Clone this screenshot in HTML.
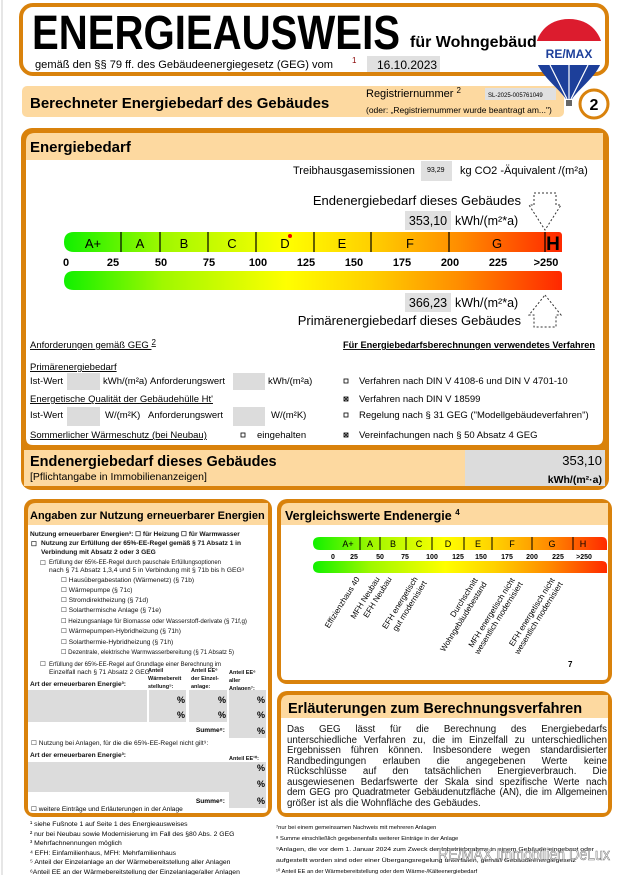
<!DOCTYPE html>
<html><head><meta charset="utf-8"><style>
html,body{margin:0;padding:0;background:#fff;}
body{position:relative;width:624px;height:875px;overflow:hidden;}
svg{display:block;font-family:"Liberation Sans",Arial,sans-serif;}
.b{font-weight:bold;}
#para{position:absolute;left:287px;top:725px;width:320px;font-family:"Liberation Sans",Arial,sans-serif;font-size:9.7px;line-height:10.5px;color:#111;}
#para div{text-align:justify;text-align-last:justify;white-space:nowrap;height:10.5px;}
#para div.l{text-align-last:left;}
</style></head><body>
<svg width="624" height="875" viewBox="0 0 624 875" xmlns="http://www.w3.org/2000/svg">
<defs>
<linearGradient id="g" x1="64" y1="0" x2="559" y2="0" gradientUnits="userSpaceOnUse">
<stop offset="0" stop-color="#10f000"/><stop offset="0.2" stop-color="#a0f800"/><stop offset="0.45" stop-color="#ffff00"/><stop offset="0.62" stop-color="#ffd000"/><stop offset="0.8" stop-color="#ff8c00"/><stop offset="1" stop-color="#ff2a00"/>
</linearGradient>
<linearGradient id="g2" x1="313" y1="0" x2="607" y2="0" gradientUnits="userSpaceOnUse">
<stop offset="0" stop-color="#10f000"/><stop offset="0.2" stop-color="#a0f800"/><stop offset="0.45" stop-color="#ffff00"/><stop offset="0.62" stop-color="#ffd000"/><stop offset="0.8" stop-color="#ff8c00"/><stop offset="1" stop-color="#ff2a00"/>
</linearGradient>
<clipPath id="bal"><path d="M569,19 C591,19 603,35 603,53 C603,72 581,86 572,99 L566,99 C557,86 535,72 535,53 C535,35 547,19 569,19 Z"/></clipPath>
</defs>
<line x1="2" y1="0" x2="2" y2="875" stroke="#ccc"/>

<!-- header -->
<rect x="21" y="5" width="586" height="69" rx="12" fill="#fff" stroke="#d9820c" stroke-width="4"/>
<text x="32" y="49" font-size="48" class="b" textLength="368" lengthAdjust="spacingAndGlyphs">ENERGIEAUSWEIS</text>
<text x="410" y="47" font-size="16" class="b">für Wohngebäude</text>
<text x="35" y="68" font-size="11" textLength="298" lengthAdjust="spacingAndGlyphs">gemäß den §§ 79 ff. des Gebäudeenergiegesetz (GEG) vom</text>
<text x="352" y="63" font-size="8" fill="#800">1</text>
<rect x="367" y="56" width="73" height="16" fill="#e0e0e0"/>
<text x="377" y="69" font-size="12">16.10.2023</text>

<!-- second bar -->
<rect x="22" y="86" width="542" height="31" rx="5" fill="#fdd9a0"/>
<text x="30" y="108" font-size="15" class="b">Berechneter Energiebedarf des Gebäudes</text>
<text x="366" y="97" font-size="11">Registriernummer <tspan font-size="8" dy="-4">2</tspan></text>
<rect x="485" y="88" width="71" height="12" fill="#e0e0e0"/>
<text x="488" y="97" font-size="6">SL-2025-005761049</text>
<text x="366" y="113" font-size="8.5">(oder: „Registriernummer wurde beantragt am...")</text>
<circle cx="594" cy="104" r="14" fill="#fff" stroke="#d9820c" stroke-width="3"/>
<text x="594" y="110" font-size="16" class="b" text-anchor="middle">2</text>

<!-- balloon -->
<g clip-path="url(#bal)">
<rect x="530" y="15" width="80" height="26" fill="#dc1c2e"/>
<rect x="530" y="41" width="80" height="24" fill="#fff"/>
<rect x="530" y="65" width="80" height="40" fill="#1d3f9a"/>
<path d="M550,65 L567,99 M588,65 L571,99 M569,65 L569,99" stroke="#fff" stroke-width="1.2"/>
</g>
<text x="569" y="58" font-size="12" class="b" fill="#1d3f9a" text-anchor="middle">RE/MAX</text>
<rect x="566" y="100" width="6" height="6" fill="#666"/>

<!-- Energiebedarf box -->
<rect x="21" y="128" width="588" height="362" rx="11" fill="#d9820c"/>
<path d="M26,142 Q26,133 35,133 L603,133 L603,160 L26,160 Z" fill="#fdd9a0"/>
<path d="M26,160 L603,160 L603,438 Q603,445 596,445 L33,445 Q26,445 26,438 Z" fill="#fff"/>
<text x="30" y="152" font-size="15" class="b">Energiebedarf</text>
<text x="293" y="174" font-size="11">Treibhausgasemissionen</text>
<rect x="421" y="161" width="31" height="20" fill="#e0e0e0"/>
<text x="427" y="172" font-size="7">93,29</text>
<text x="460" y="174" font-size="11">kg CO2 -Äquivalent /(m²a)</text>

<text x="521" y="205" font-size="13" text-anchor="end">Endenergiebedarf dieses Gebäudes</text>
<rect x="405" y="211" width="46" height="19" fill="#e0e0e0"/>
<text x="428" y="225" font-size="12.5" text-anchor="middle">353,10</text>
<text x="455" y="225" font-size="12.5">kWh/(m²*a)</text>
<path d="M534,205 L534,193 L556,193 L556,205 L561,205 L545,230 L529,205 Z" fill="none" stroke="#333" stroke-dasharray="2,2"/>

<path d="M74,232 L559,232 Q562,232 562,236 L562,252 L74,252 Q64,252 64,242 Q64,232 74,232 Z" fill="url(#g)"/>
<g stroke="#000" stroke-width="1.2">
<line x1="121" y1="232" x2="121" y2="252"/><line x1="160" y1="232" x2="160" y2="252"/><line x1="208" y1="232" x2="208" y2="252"/><line x1="256" y1="232" x2="256" y2="252"/><line x1="314" y1="232" x2="314" y2="252"/><line x1="371" y1="232" x2="371" y2="252"/><line x1="449" y1="232" x2="449" y2="252"/><line x1="545" y1="232" x2="545" y2="252"/>
</g>
<g font-size="13" text-anchor="middle">
<text x="93" y="248">A+</text><text x="140" y="248">A</text><text x="184" y="248">B</text><text x="232" y="248">C</text><text x="285" y="248">D</text><text x="342" y="248">E</text><text x="410" y="248">F</text><text x="497" y="248">G</text>
</g>
<text x="553" y="250" font-size="19" class="b" text-anchor="middle">H</text>
<circle cx="290" cy="236" r="2" fill="#e00"/>
<g font-size="11" class="b" text-anchor="middle">
<text x="66" y="266">0</text><text x="113" y="266">25</text><text x="161" y="266">50</text><text x="209" y="266">75</text><text x="258" y="266">100</text><text x="306" y="266">125</text><text x="354" y="266">150</text><text x="402" y="266">175</text><text x="450" y="266">200</text><text x="498" y="266">225</text><text x="546" y="266">&gt;250</text>
</g>
<path d="M74,271 L559,271 Q562,271 562,275 L562,290 L74,290 Q64,290 64,281 Q64,271 74,271 Z" fill="url(#g)"/>
<rect x="405" y="293" width="46" height="19" fill="#e0e0e0"/>
<text x="428" y="307" font-size="12.5" text-anchor="middle">366,23</text>
<text x="455" y="307" font-size="12.5">kWh/(m²*a)</text>
<text x="521" y="325" font-size="13" text-anchor="end">Primärenergiebedarf dieses Gebäudes</text>
<path d="M545,295 L561,315 L556,315 L556,327 L534,327 L534,315 L529,315 Z" fill="none" stroke="#333" stroke-dasharray="2,2"/>

<g font-size="9.5">
<text x="30" y="348" text-decoration="underline">Anforderungen gemäß GEG <tspan font-size="8" dy="-3">2</tspan></text>
<text x="343" y="348" class="b" text-decoration="underline" font-size="9" textLength="252" lengthAdjust="spacingAndGlyphs">Für Energiebedarfsberechnungen verwendetes Verfahren</text>
<text x="30" y="370" text-decoration="underline">Primärenergiebedarf</text>
<text x="30" y="384">Ist-Wert</text>
<rect x="67" y="373" width="33" height="17" fill="#dcdcdc"/>
<text x="103" y="384">kWh/(m²a)</text>
<text x="150" y="384">Anforderungswert</text>
<rect x="233" y="373" width="32" height="17" fill="#dcdcdc"/>
<text x="268" y="384">kWh/(m²a)</text>
<text x="30" y="402" text-decoration="underline">Energetische Qualität der Gebäudehülle Ht'</text>
<text x="30" y="418">Ist-Wert</text>
<rect x="67" y="407" width="33" height="19" fill="#dcdcdc"/>
<text x="105" y="418">W/(m²K)</text>
<text x="148" y="418">Anforderungswert</text>
<rect x="233" y="407" width="32" height="19" fill="#dcdcdc"/>
<text x="271" y="418">W/(m²K)</text>
<text x="30" y="438" text-decoration="underline">Sommerlicher Wärmeschutz (bei Neubau)</text>
<rect x="241" y="433" width="4" height="4" fill="none" stroke="#000" stroke-width="0.8"/>
<text x="257" y="438">eingehalten</text>
<text x="359" y="384">Verfahren nach DIN V 4108-6 und DIN V 4701-10</text>
<text x="359" y="402">Verfahren nach DIN V 18599</text>
<text x="359" y="418">Regelung nach § 31 GEG ("Modellgebäudeverfahren")</text>
<text x="359" y="438">Vereinfachungen nach § 50 Absatz 4 GEG</text>
</g>
<g fill="none" stroke="#000" stroke-width="0.8">
<rect x="344" y="379" width="4" height="4"/><rect x="344" y="397" width="4" height="4"/><rect x="344" y="413" width="4" height="4"/><rect x="344" y="433" width="4" height="4"/>
<path d="M344,397 L348,401 M348,397 L344,401 M344,433 L348,437 M348,433 L344,437"/>
</g>
<rect x="24" y="450" width="581" height="36" fill="#fdd9a0"/>
<rect x="465" y="450" width="140" height="36" fill="#dcdcdc"/>
<text x="30" y="466" font-size="14.5" class="b">Endenergiebedarf dieses Gebäudes</text>
<text x="30" y="480" font-size="10.5">[Pflichtangabe in Immobilienanzeigen]</text>
<text x="602" y="465" font-size="13" text-anchor="end">353,10</text>
<text x="602" y="483" font-size="10.5" class="b" text-anchor="end">kWh/(m²·a)</text>

<!-- left lower box -->
<rect x="24" y="499" width="248" height="318" rx="10" fill="#d9820c"/>
<path d="M28,511 Q28,503 36,503 L268,503 L268,525 L28,525 Z" fill="#fdd9a0"/>
<path d="M28,525 L268,525 L268,808 Q268,813 263,813 L33,813 Q28,813 28,808 Z" fill="#fff"/>
<text x="30" y="519" font-size="11" class="b">Angaben zur Nutzung erneuerbarer Energien</text>
<g font-size="6.6" class="b" fill="#111">
<text x="30" y="536">Nutzung erneuerbarer Energien³: ☐ für Heizung  ☐ für Warmwasser</text>
<text x="31" y="546">☐</text><text x="41" y="545" textLength="200" lengthAdjust="spacingAndGlyphs">Nutzung zur Erfüllung der 65%-EE-Regel gemäß § 71 Absatz 1 in</text>
<text x="41" y="554">Verbindung mit Absatz 2 oder 3 GEG</text>
<text x="40" y="565" font-weight="normal">☐</text><text x="49" y="564" font-weight="normal" textLength="172" lengthAdjust="spacingAndGlyphs">Erfüllung der 65%-EE-Regel durch pauschale Erfüllungsoptionen</text>
<text x="49" y="572" font-weight="normal" textLength="195" lengthAdjust="spacingAndGlyphs">nach § 71 Absatz 1,3,4 und 5 in Verbindung mit § 71b bis h GEG³</text>
<g font-weight="normal">
<text x="61" y="582">☐  Hausübergabestation (Wärmenetz) (§ 71b)</text>
<text x="61" y="592">☐  Wärmepumpe (§ 71c)</text>
<text x="61" y="602">☐  Stromdirektheizung (§ 71d)</text>
<text x="61" y="612">☐  Solarthermische Anlage (§ 71e)</text>
<text x="61" y="623" textLength="186" lengthAdjust="spacingAndGlyphs">☐  Heizungsanlage für Biomasse oder Wasserstoff-derivate (§ 71f,g)</text>
<text x="61" y="633">☐  Wärmepumpen-Hybridheizung (§ 71h)</text>
<text x="61" y="644">☐  Solarthermie-Hybridheizung (§ 71h)</text>
<text x="61" y="654" textLength="173" lengthAdjust="spacingAndGlyphs">☐  Dezentrale, elektrische Warmwasserbereitung (§ 71 Absatz 5)</text>
<text x="40" y="666">☐</text><text x="49" y="666" textLength="172" lengthAdjust="spacingAndGlyphs">Erfüllung der 65%-EE-Regel auf Grundlage einer Berechnung im</text>
<text x="49" y="674">Einzelfall nach § 71 Absatz 2 GEG</text>
<text x="31" y="745">☐ Nutzung bei Anlagen, für die die 65%-EE-Regel nicht gilt⁹:</text>
</g>
<g font-size="5.5">
<text x="148" y="672">Anteil</text><text x="148" y="680">Wärmebereit</text><text x="148" y="688">stellung⁵:</text>
<text x="191" y="672">Anteil EE⁶</text><text x="191" y="680">der Einzel-</text><text x="191" y="688">anlage:</text>
<text x="229" y="674">Anteil EE⁶</text><text x="229" y="682">aller</text><text x="229" y="690">Anlagen⁷:</text>
<text x="229" y="760">Anteil EE¹⁰:</text>
</g>
<text x="30" y="686">Art der erneuerbaren Energie³:</text>
<text x="30" y="757">Art der erneuerbaren Energie³:</text>
</g>
<g fill="#dcdcdc">
<rect x="28" y="690" width="119" height="32"/><rect x="149" y="690" width="37" height="32"/><rect x="189" y="690" width="38" height="32"/><rect x="229" y="690" width="37" height="48"/>
<rect x="28" y="762" width="238" height="30"/><rect x="229" y="762" width="37" height="46"/>
</g>
<g font-size="9" class="b" text-anchor="end">
<text x="185" y="703">%</text><text x="185" y="718">%</text><text x="226" y="703">%</text><text x="226" y="718">%</text><text x="265" y="703">%</text><text x="265" y="718">%</text><text x="265" y="734">%</text>
<text x="265" y="771">%</text><text x="265" y="787">%</text><text x="265" y="804">%</text>
</g>
<text x="225" y="732" font-size="6.6" class="b" text-anchor="end">Summe⁸:</text>
<text x="225" y="803" font-size="6.6" class="b" text-anchor="end">Summe⁸:</text>
<text x="31" y="811" font-size="6.6">☐   weitere Einträge und Erläuterungen in der Anlage</text>
<g font-size="6.8">
<text x="30" y="826">¹ siehe Fußnote 1 auf Seite 1 des Energieausweises</text>
<text x="30" y="836">² nur bei Neubau sowie Modernisierung im Fall des §80 Abs. 2 GEG</text>
<text x="30" y="845">³ Mehrfachnennungen möglich</text>
<text x="30" y="855">⁴ EFH: Einfamilienhaus, MFH: Mehrfamilienhaus</text>
<text x="30" y="864">⁵ Anteil der Einzelanlage an der Wärmebereitstellung aller Anlagen</text>
<text x="30" y="874">⁶Anteil EE an der Wärmebereitstellung der Einzelanlage/aller Anlagen</text>
</g>

<!-- Vergleichswerte -->
<rect x="277" y="499" width="335" height="185" rx="10" fill="#d9820c"/>
<path d="M281,511 Q281,503 289,503 L608,503 L608,525 L281,525 Z" fill="#fdd9a0"/>
<path d="M281,525 L608,525 L608,675 Q608,680 603,680 L286,680 Q281,680 281,675 Z" fill="#fff"/>
<text x="285" y="520" font-size="12.5" font-weight="bold">Vergleichswerte Endenergie <tspan font-size="8" dy="-5">4</tspan></text>
<path d="M320,537 L602,537 Q607,537 607,543 L607,550 L320,550 Q313,550 313,543 Q313,537 320,537 Z" fill="url(#g2)"/>
<g stroke="#000" stroke-width="1">
<line x1="360" y1="537" x2="360" y2="550"/><line x1="380" y1="537" x2="380" y2="550"/><line x1="406" y1="537" x2="406" y2="550"/><line x1="432" y1="537" x2="432" y2="550"/><line x1="464" y1="537" x2="464" y2="550"/><line x1="492" y1="537" x2="492" y2="550"/><line x1="532" y1="537" x2="532" y2="550"/><line x1="573" y1="537" x2="573" y2="550"/>
</g>
<g font-size="9" text-anchor="middle">
<text x="348" y="547">A+</text><text x="370" y="547">A</text><text x="393" y="547">B</text><text x="419" y="547">C</text><text x="448" y="547">D</text><text x="478" y="547">E</text><text x="512" y="547">F</text><text x="552" y="547">G</text><text x="583" y="547">H</text>
</g>
<g font-size="7" class="b" text-anchor="middle">
<text x="333" y="559">0</text><text x="354" y="559">25</text><text x="380" y="559">50</text><text x="405" y="559">75</text><text x="432" y="559">100</text><text x="458" y="559">125</text><text x="481" y="559">150</text><text x="507" y="559">175</text><text x="532" y="559">200</text><text x="558" y="559">225</text><text x="584" y="559">&gt;250</text>
</g>
<path d="M320,561 L602,561 Q607,561 607,566 L607,573 L320,573 Q313,573 313,567 Q313,561 320,561 Z" fill="url(#g2)"/>
<g font-size="8" text-anchor="end">
<text transform="translate(360,579) rotate(-58)">Effizienzhaus 40</text>
<text transform="translate(380,579) rotate(-58)">MFH Neubau</text>
<text transform="translate(392,579) rotate(-58)">EFH Neubau</text>
<text transform="translate(418,579) rotate(-58)">EFH energetisch</text>
<text transform="translate(427,583) rotate(-58)">gut modernisiert</text>
<text transform="translate(478,580) rotate(-58)">Durchschnitt</text>
<text transform="translate(487,584) rotate(-58)">Wohngebäudebestand</text>
<text transform="translate(515,580) rotate(-58)">MFH energetisch nicht</text>
<text transform="translate(523,584) rotate(-58)">wesentlich modernisiert</text>
<text transform="translate(555,580) rotate(-58)">EFH energetisch nicht</text>
<text transform="translate(563,584) rotate(-58)">wesentlich modernisiert</text>
</g>
<text x="568" y="667" font-size="8" class="b">7</text>

<!-- Erläuterungen -->
<rect x="277" y="691" width="335" height="126" rx="10" fill="#d9820c"/>
<path d="M281,703 Q281,695 289,695 L608,695 L608,718 L281,718 Z" fill="#fdd9a0"/>
<path d="M281,718 L608,718 L608,808 Q608,813 603,813 L286,813 Q281,813 281,808 Z" fill="#fff"/>
<text x="288" y="713" font-size="14.5" class="b">Erläuterungen zum Berechnungsverfahren</text>
<g font-size="5.8">
<text x="276" y="829">⁷nur bei einem gemeinsamen Nachweis mit mehreren Anlagen</text>
<text x="276" y="840">⁸ Summe einschließlich gegebenenfalls weiterer Einträge in der Anlage</text>
<text x="276" y="851" textLength="318" lengthAdjust="spacingAndGlyphs">⁹Anlagen, die vor dem 1. Januar 2024 zum Zweck der Inbetriebnahme in einem Gebäude eingebaut oder</text>
<text x="276" y="862" textLength="300" lengthAdjust="spacingAndGlyphs">aufgestellt worden sind oder einer Übergangsregelung unterfallen, gemäß Gebäudeenergiegesetz</text>
<text x="276" y="873">¹⁰ Anteil EE an der Wärmebereitstellung oder dem Wärme-/Kälteenergiebedarf</text>
</g>
<text x="438" y="860" font-size="17" fill="#fff" fill-opacity="0.6" stroke="#777" stroke-width="0.6" textLength="172" lengthAdjust="spacingAndGlyphs">RE/MAX Immobilien DeLux</text>
</svg>
<div id="para">
<div>Das GEG lässt für die Berechnung des Energiebedarfs</div>
<div>unterschiedliche Verfahren zu, die im Einzelfall zu unterschiedlichen</div>
<div>Ergebnissen führen können. Insbesondere wegen standardisierter</div>
<div>Randbedingungen erlauben die angegebenen Werte keine</div>
<div>Rückschlüsse auf den tatsächlichen Energieverbrauch. Die</div>
<div>ausgewiesenen Bedarfswerte der Skala sind spezifische Werte nach</div>
<div style="letter-spacing:-0.15px">dem GEG pro Quadratmeter Gebäudenutzfläche (AN), die im Allgemeinen</div>
<div class="l">größer ist als die Wohnfläche des Gebäudes.</div>
</div>
</body></html>
